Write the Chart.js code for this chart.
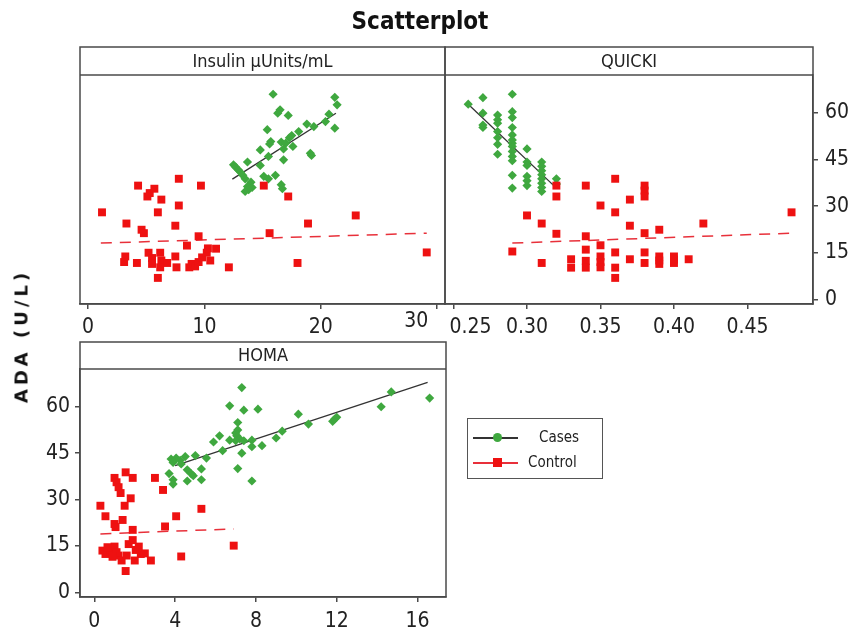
<!DOCTYPE html>
<html>
<head>
<meta charset="utf-8">
<script src="https://cdn.jsdelivr.net/npm/chart.js@4"></script>
<style>
body { margin: 0; background: #fff; width: 861px; height: 630px; position: relative; overflow: hidden;
  font-family: "DejaVu Sans Condensed", "DejaVu Sans", sans-serif; font-stretch: condensed; color: #222; }
canvas { position: absolute; left: 0; top: 0; }
#title { position: absolute; left: 420px; top: 21px; transform: translate(-50%, -50%); font-weight: bold; font-size: 24px; white-space: nowrap; color: #111; }
#ytitle { position: absolute; left: 21px; top: 336px; transform: translate(-50%, -50%) rotate(-90deg); font-weight: bold; font-size: 18px; letter-spacing: 4px; white-space: nowrap; color: #111; font-family: "DejaVu Sans", sans-serif; font-stretch: normal; }
#legend { position: absolute; left: 467px; top: 418px; width: 134px; height: 59px; border: 1px solid #555; }
.lline { position: absolute; left: 5px; width: 45px; height: 1.5px; }
.lmark { position: absolute; width: 9px; height: 9px; }
.ltext { position: absolute; font-size: 15px; line-height: 15px; }
</style>
</head>
<body>
<canvas id="c1" width="861" height="630"></canvas>
<canvas id="c2" width="861" height="630"></canvas>
<canvas id="c3" width="861" height="630"></canvas>
<div id="title">Scatterplot</div>
<div id="ytitle">ADA (U/L)</div>
<div id="legend">
  <div class="lline" style="top:18px;background:#333"></div>
  <div class="lmark" style="left:25px;top:14px;background:#3fa83f;border-radius:50%"></div>
  <div class="ltext" style="left:71px;top:11px">Cases</div>
  <div class="lline" style="top:43px;background:#e8303a"></div>
  <div class="lmark" style="left:25px;top:39px;background:#ee1111"></div>
  <div class="ltext" style="left:60px;top:36px">Control</div>
</div>
<script>
// shared y ticks
const yTicks = [0, 15, 30, 45, 60];

// Insulin
const insulinTicks = [0, 10, 20, 30];
const insulinCases = [[15.9,66.0],[21.2,65.0],[21.4,62.6],[16.3,59.9],[16.5,61.0],[17.2,59.2],[20.7,59.6],[20.4,57.2],[19.4,55.6],[18.8,56.4],[18.1,54.0],[21.2,55.1],[15.4,54.6],[15.7,50.8],[15.6,50.0],[16.6,50.6],[17.3,52.0],[17.5,52.7],[17.0,50.3],[17.6,49.2],[16.8,48.4],[14.8,48.1],[15.5,46.0],[16.8,44.9],[19.1,47.0],[19.2,46.3],[13.7,44.2],[14.8,43.1],[12.5,43.3],[12.7,42.5],[12.9,41.7],[13.1,40.9],[13.3,39.9],[13.5,38.8],[14.0,37.7],[13.7,36.3],[14.1,36.0],[13.8,35.3],[13.5,34.7],[15.1,39.6],[15.5,38.8],[16.1,39.9],[16.6,36.9],[16.7,35.6]];
const insulinControl = [[1.2,28.0],[4.3,36.6],[5.1,33.1],[5.3,34.2],[5.7,35.6],[6.3,32.1],[7.8,38.8],[9.7,36.6],[7.8,30.2],[6.0,28.0],[3.3,24.4],[7.5,23.7],[4.6,22.4],[4.8,21.3],[15.1,36.6],[17.2,33.1],[23.0,27.0],[18.9,24.4],[15.6,21.3],[9.5,20.3],[8.5,17.3],[3.2,13.8],[3.1,12.0],[4.2,11.7],[5.2,15.0],[5.5,13.3],[5.5,11.4],[6.2,15.0],[6.3,12.5],[6.2,10.3],[6.8,11.7],[7.5,13.8],[7.6,10.3],[6.0,6.9],[8.7,10.3],[8.9,11.4],[9.2,10.6],[9.5,12.0],[9.8,13.5],[10.2,15.0],[10.3,16.4],[11.0,16.3],[10.5,12.5],[12.1,10.3],[18.0,11.7],[29.1,15.1]];
const insulinCasesFit = [[12.4,38.7],[21.3,59.9]];
const insulinControlFit = [[1.1,18.1],[29.1,21.3]];

// QUICKI
const quickiTicks = [0.25, 0.30, 0.35, 0.40, 0.45];
const quickiCases = [[0.26,62.8],[0.27,64.9],[0.27,59.9],[0.27,56.1],[0.27,55.3],[0.28,59.3],[0.28,57.8],[0.28,56.7],[0.28,54.0],[0.28,52.0],[0.28,49.9],[0.28,46.7],[0.29,66.0],[0.29,60.4],[0.29,58.5],[0.29,55.3],[0.29,52.9],[0.29,51.3],[0.29,50.2],[0.29,49.2],[0.29,47.6],[0.29,46.0],[0.29,44.6],[0.29,39.9],[0.29,35.8],[0.30,48.4],[0.30,44.2],[0.30,43.1],[0.30,39.6],[0.30,38.2],[0.30,36.6],[0.31,44.2],[0.31,42.8],[0.31,41.4],[0.31,40.1],[0.31,38.8],[0.31,37.4],[0.31,36.0],[0.31,34.7],[0.32,38.8],[0.32,37.1]];
const quickiControl = [[0.29,15.4],[0.30,27.0],[0.31,24.4],[0.31,11.7],[0.32,36.6],[0.32,33.1],[0.32,21.1],[0.33,12.9],[0.33,10.2],[0.34,36.6],[0.34,20.3],[0.34,16.0],[0.34,12.4],[0.34,10.2],[0.35,30.2],[0.35,17.4],[0.35,13.8],[0.35,12.0],[0.35,10.3],[0.36,38.8],[0.36,28.0],[0.36,15.1],[0.36,10.2],[0.36,6.9],[0.37,32.1],[0.37,23.7],[0.37,12.9],[0.38,36.6],[0.38,35.0],[0.38,33.1],[0.38,21.3],[0.38,15.1],[0.38,11.7],[0.39,22.4],[0.39,13.8],[0.39,12.5],[0.39,11.4],[0.40,13.8],[0.40,12.8],[0.40,11.7],[0.41,12.9],[0.42,24.4],[0.48,28.0]];
const quickiCasesFit = [[0.26,62.8],[0.32,35.8]];
const quickiControlFit = [[0.29,18.1],[0.48,21.3]];

// HOMA
const homaTicks = [0, 4, 8, 12, 16];
const homaCases = [[7.3,66.2],[6.7,60.3],[7.4,58.9],[8.1,59.2],[10.1,57.6],[14.7,64.8],[14.2,60.0],[16.6,62.8],[12.0,56.6],[11.8,55.3],[10.6,54.4],[9.3,52.1],[9.0,49.9],[8.3,47.4],[7.8,49.2],[7.8,47.1],[7.1,54.9],[7.1,52.5],[7.05,50.6],[7.2,49.6],[7.4,49.0],[7.0,49.0],[7.3,45.0],[7.1,40.0],[7.8,36.0],[6.7,49.2],[6.35,45.8],[6.2,50.6],[5.9,48.6],[5.55,43.4],[5.0,44.2],[4.5,43.9],[4.25,42.7],[4.05,43.4],[3.8,43.1],[3.7,38.4],[3.9,36.4],[3.9,35.0],[4.6,39.6],[4.8,38.3],[4.9,37.7],[5.3,39.9],[5.3,36.4],[4.6,36.0],[11.9,56.0],[3.9,42.0],[4.3,41.5],[7.0,51.5]];
const homaControl = [[1.55,38.8],[1.0,37.0],[1.1,35.6],[1.2,34.0],[1.3,32.1],[1.9,37.0],[3.0,37.0],[3.4,33.1],[1.8,30.4],[1.5,28.0],[0.3,28.0],[0.55,24.6],[1.0,22.1],[1.4,23.4],[5.3,27.0],[4.05,24.6],[3.5,21.3],[1.9,20.2],[1.05,21.1],[0.4,13.5],[0.55,12.4],[0.8,13.7],[1.0,14.8],[1.2,11.9],[1.35,10.3],[1.55,6.9],[1.7,15.6],[1.9,16.9],[2.05,13.7],[2.3,12.4],[2.5,12.6],[2.8,10.3],[2.0,10.3],[4.3,11.6],[6.9,15.1],[0.65,14.6],[1.6,11.9],[1.1,13.0],[2.2,14.8],[0.9,11.5]];
const homaCasesFit = [[4.0,41.0],[16.5,67.9]];
const homaControlFit = [[0.3,18.9],[6.9,20.5]];

const FONT = '"DejaVu Sans Condensed", "DejaVu Sans", sans-serif';
const frameColor = '#4a4a4a';
const green = '#3fa83f';
const red = '#ee1111';
const toXY = arr => arr.map(p => ({x: p[0], y: p[1]}));

// frame, header and tick labels of one panel
const panelPlugin = {
  id: 'panel',
  afterDraw(chart, args, opts) {
    const a = chart.chartArea, ctx = chart.ctx;
    ctx.save();
    ctx.strokeStyle = frameColor;
    ctx.lineWidth = 1.5;
    ctx.strokeRect(a.left, a.top - opts.headerH, a.right - a.left, a.bottom - a.top + opts.headerH);
    ctx.beginPath();
    ctx.moveTo(a.left, a.top);
    ctx.lineTo(a.right, a.top);
    ctx.stroke();
    ctx.fillStyle = '#222';
    ctx.font = '18px ' + FONT;
    ctx.textAlign = 'center';
    ctx.textBaseline = 'middle';
    ctx.fillText(opts.title, (a.left + a.right) / 2, a.top - opts.headerH / 2 + 1);

    ctx.font = '21px ' + FONT;
    opts.labels.forEach(t => {
      const s = chart.scales[t.axis];
      t.values.forEach((v, i) => {
        const txt = t.text ? t.text[i] : String(v);
        const p = s.getPixelForValue(v);
        const off = (t.offsets && t.offsets[i]) || [0, 0];
        if (s.isHorizontal()) {
          ctx.textAlign = 'center';
          ctx.textBaseline = 'alphabetic';
          ctx.fillText(txt, p + off[0], a.bottom + t.gap + off[1]);
        } else if (s.position === 'right') {
          ctx.textAlign = 'left';
          ctx.textBaseline = 'middle';
          ctx.fillText(txt, a.right + t.gap, p);
        } else {
          ctx.textAlign = 'right';
          ctx.textBaseline = 'middle';
          ctx.fillText(txt, a.left - t.gap, p);
        }
      });
    });
    ctx.restore();
  }
};

function axisOpts(min, max, ticks, position, show) {
  const horiz = position === 'bottom';
  return {
    type: 'linear', min: min, max: max, position: position, display: show,
    afterBuildTicks: s => { s.ticks = ticks.map(v => ({value: v})); },
    afterFit: s => { if (horiz) s.height = 0; else s.width = 0; },
    ticks: {display: false},
    grid: {drawOnChartArea: false, drawTicks: true, tickLength: 5, color: frameColor, lineWidth: 1.5},
    border: {display: true, color: frameColor, width: 1.5}
  };
}

function makePanel(id, box, cases, control, casesFit, controlFit, xr, xTicks, yPos, plugOpts) {
  new Chart(document.getElementById(id), {
    type: 'scatter',
    data: {
      datasets: [
        {data: toXY(control), pointStyle: 'rect', pointRadius: 5.6, backgroundColor: red, borderColor: red, borderWidth: 0},
        {data: toXY(cases), pointStyle: 'rectRot', pointRadius: 4.6, backgroundColor: green, borderColor: green, borderWidth: 0},
        {data: toXY(controlFit), showLine: true, pointRadius: 0, borderColor: '#e8303a', borderWidth: 1.5, borderDash: [11, 8]},
        {data: toXY(casesFit), showLine: true, pointRadius: 0, borderColor: '#333', borderWidth: 1.3}
      ]
    },
    options: {
      responsive: false, animation: false, devicePixelRatio: 1,
      layout: {padding: {left: box[0], top: box[1], right: 861 - box[2], bottom: 630 - box[3]}},
      scales: {
        x: axisOpts(xr[0], xr[1], xTicks, 'bottom', true),
        y: axisOpts(-1.5, 72.2, yTicks, yPos || 'left', !!yPos)
      },
      plugins: {legend: {display: false}, tooltip: {enabled: false}, panel: plugOpts}
    },
    plugins: [panelPlugin]
  });
}

makePanel('c1', [80, 75, 445, 304], insulinCases, insulinControl, insulinCasesFit, insulinControlFit,
  [-0.69, 30.67], insulinTicks, null,
  {title: 'Insulin µUnits/mL', headerH: 28,
   labels: [{axis: 'x', values: insulinTicks, gap: 29, offsets: [null, null, null, [-21, -6]]}]});

makePanel('c2', [445, 75, 813, 304], quickiCases, quickiControl, quickiCasesFit, quickiControlFit,
  [0.2442, 0.4946], quickiTicks, 'right',
  {title: 'QUICKI', headerH: 28,
   labels: [{axis: 'x', values: quickiTicks, text: quickiTicks.map(v => v.toFixed(2)), gap: 29, offsets: [[17, 0]]},
            {axis: 'y', values: yTicks, gap: 12}]});

makePanel('c3', [80, 369, 446, 597], homaCases, homaControl, homaCasesFit, homaControlFit,
  [-0.71, 17.41], homaTicks, 'left',
  {title: 'HOMA', headerH: 27,
   labels: [{axis: 'x', values: homaTicks, gap: 30},
            {axis: 'y', values: yTicks, gap: 10}]});
</script>
</body>
</html>
